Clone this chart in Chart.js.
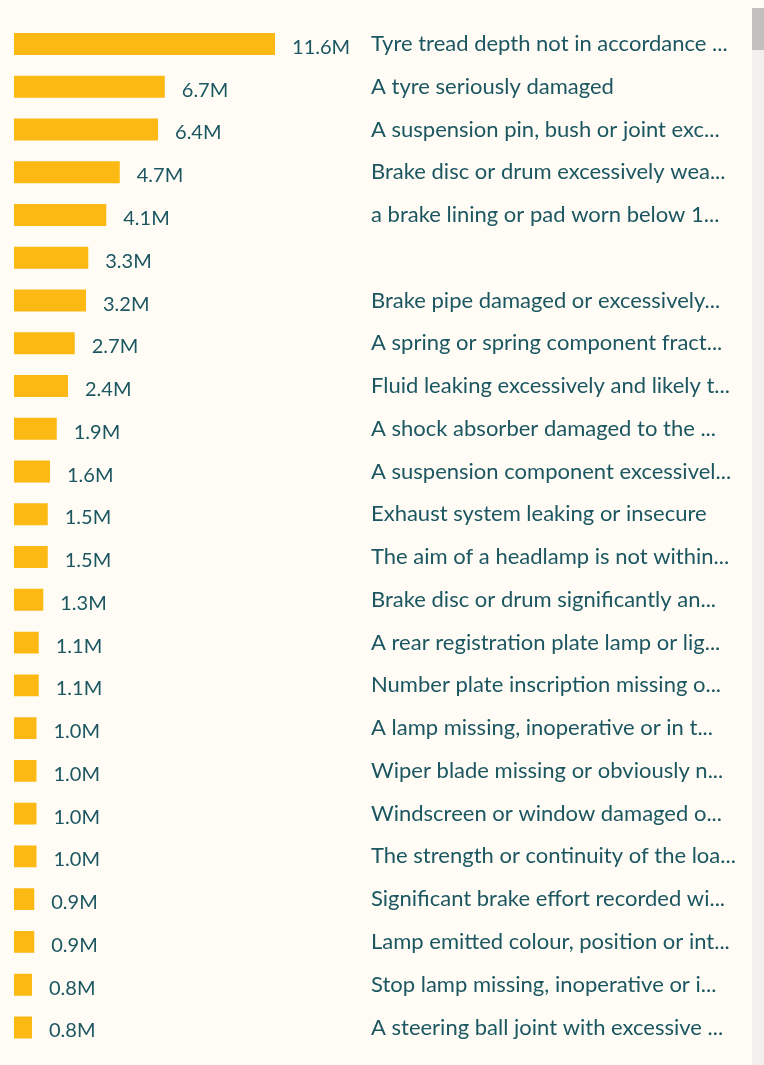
<!DOCTYPE html>
<html>
<head>
<meta charset="utf-8">
<script src="https://cdn.jsdelivr.net/npm/chart.js@4.4.1/dist/chart.umd.min.js"></script>
<style>
    html, body {
        margin: 0;
        padding: 0;
        background: #fffcf5;
        overflow: hidden;
    }
    .khung {
        position: relative;
        width: 764px;
        height: 1065px;
    }
    #bieudo {
        position: absolute;
        left: 0;
        top: 0;
    }
    .thanhcuon {
        position: absolute;
        right: 0;
        top: 8px;
        bottom: 0;
        width: 12px;
        background: #f1f0ee;
    }
    .thanhcuon div {
        height: 42px;
        background: #c2c0bc;
    }
</style>
</head>
<body>
<div class="khung">
    <canvas id="bieudo" width="764" height="1065"></canvas>
    <div class="thanhcuon"><div></div></div>
</div>

<script>
// Lỗi kiểm định (triệu lượt)
var loiKiemDinh = [
    'Tyre tread depth not in accordance ...',
    'A tyre seriously damaged',
    'A suspension pin, bush or joint exc...',
    'Brake disc or drum excessively wea...',
    'a brake lining or pad worn below 1...',
    '',
    'Brake pipe damaged or excessively...',
    'A spring or spring component fract...',
    'Fluid leaking excessively and likely t...',
    'A shock absorber damaged to the ...',
    'A suspension component excessivel...',
    'Exhaust system leaking or insecure',
    'The aim of a headlamp is not within...',
    'Brake disc or drum significantly an...',
    'A rear registration plate lamp or lig...',
    'Number plate inscription missing o...',
    'A lamp missing, inoperative or in t...',
    'Wiper blade missing or obviously n...',
    'Windscreen or window damaged o...',
    'The strength or continuity of the loa...',
    'Significant brake effort recorded wi...',
    'Lamp emitted colour, position or int...',
    'Stop lamp missing, inoperative or i...',
    'A steering ball joint with excessive ...'
];

var soLuot = [11.6, 6.7, 6.4, 4.7, 4.1, 3.3, 3.2, 2.7, 2.4, 1.9, 1.6, 1.5,
    1.5, 1.3, 1.1, 1.1, 1.0, 1.0, 1.0, 1.0, 0.9, 0.9, 0.8, 0.8];

var mauCot = '#fdb913';
var mauChu = '#1b5661';
var phongChu = 'Lato, "Open Sans", sans-serif';

// Ghi số lượt ngay sau đầu mỗi cột
var ghiSo = {
    id: 'ghiSo',
    afterDatasetsDraw: function (chart) {
        var ctx = chart.ctx;
        var meta = chart.getDatasetMeta(0);
        ctx.save();
        ctx.fillStyle = mauChu;
        ctx.font = '20px ' + phongChu;
        ctx.textAlign = 'left';
        ctx.textBaseline = 'alphabetic';
        meta.data.forEach(function (cot, i) {
            ctx.fillText(soLuot[i].toFixed(1) + 'M', cot.x + 17, cot.y + 10);
        });
        ctx.restore();
    }
};

new Chart(document.getElementById('bieudo'), {
    type: 'bar',
    data: {
        labels: loiKiemDinh,
        datasets: [{
            data: soLuot,
            backgroundColor: mauCot,
            borderWidth: 0,
            barPercentage: 1,
            categoryPercentage: 0.513
        }]
    },
    options: {
        indexAxis: 'y',
        responsive: false,
        animation: false,
        layout: {
            padding: { left: 14, top: 22.6, bottom: 13.6, right: 0 }
        },
        plugins: {
            legend: { display: false },
            tooltip: { enabled: false }
        },
        scales: {
            x: {
                display: false,
                min: 0,
                max: 15.73
            },
            y: {
                position: 'right',
                grid: { display: false, drawTicks: false },
                border: { display: false },
                ticks: {
                    color: mauChu,
                    padding: 3,
                    font: { family: phongChu, size: 22 },
                    autoSkip: false
                },
                afterFit: function (scale) {
                    scale.width = 396;
                }
            }
        }
    },
    plugins: [ghiSo]
});
</script>
</body>
</html>
